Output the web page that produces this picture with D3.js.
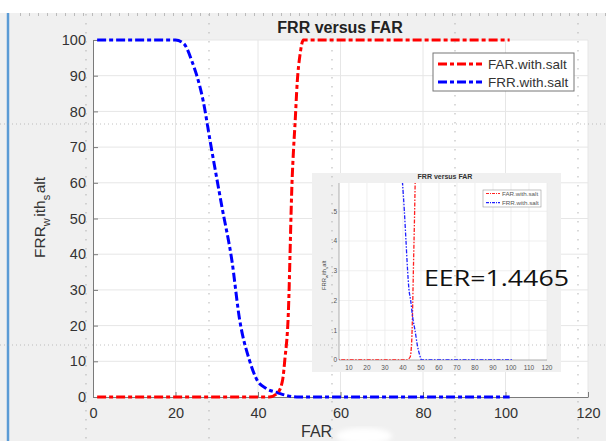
<!DOCTYPE html>
<html>
<head>
<meta charset="utf-8">
<script src="https://cdn.jsdelivr.net/npm/d3@7"></script>
<style>
body { margin: 0; background: #fff; }
text { font-family: "Liberation Sans", Arial, sans-serif; }
</style>
</head>
<body>
<script>
// main chart data
var farX = [1, 42.7, 44.8, 46, 46.5, 47.3, 48.3, 48.6, 49.0, 49.5, 50.2, 51, 101];
var farY = [0, 0, 1.2, 5, 10.4, 22, 61.7, 69, 77, 88, 96, 100, 100];
var frrX = [1, 20, 22, 24, 26.7, 28.5, 31.3, 33.7, 35.5, 37.9, 39.7, 42, 44.8, 47, 49.4, 101];
var frrY = [100, 100, 99, 94, 83, 71, 53, 38, 22, 10.4, 4.9, 2.4, 1.2, 0.4, 0, 0];
var xTicks = [0, 20, 40, 60, 80, 100, 120];
var yTicks = [0, 10, 20, 30, 40, 50, 60, 70, 80, 90, 100];
var seriesNames = ["FAR.with.salt", "FRR.with.salt"];

// inset chart data
var insetFarX = [1, 42.1, 44, 44.9, 45.3, 45.8, 46.5, 46.8];
var insetFarY = [0, 0, 0.01, 0.067, 0.15, 0.3, 0.5, 0.6];
var insetFrrX = [39.7, 40.8, 41.7, 42.6, 43.3, 44.3, 45.5, 46.7, 48, 49.4, 50.3, 101];
var insetFrrY = [0.6, 0.5, 0.4, 0.3, 0.24, 0.2, 0.14, 0.1, 0.05, 0.015, 0, 0];
var insetXTicks = [10, 20, 30, 40, 50, 60, 70, 80, 90, 100, 110, 120];
var insetYTicks = [0, 0.1, 0.2, 0.3, 0.4, 0.5];
var insetYLabels = ["0", ".1", ".2", ".3", ".4", ".5"];
var eerText = "EER=1.4465";

function zip(a, b){
    return a.map(function(v, i){ return [v, b[i]]; });
}

window.onload = function(){
    var svg = d3.select("body")
        .append("svg")
        .attr("width", 606)
        .attr("height", 441);

    var defs = svg.append("defs");
    defs.append("filter").attr("id", "blur")
        .append("feGaussianBlur").attr("stdDeviation", 2.5);
    defs.append("clipPath").attr("id", "insetClip")
        .append("rect").attr("x", 339).attr("y", 183).attr("width", 208).attr("height", 177);

    //figure background
    svg.append("rect")
        .attr("x", 0).attr("y", 13)
        .attr("width", 606).attr("height", 428)
        .style("fill", "#f0f0f0");
    //blue edge on the left
    svg.append("line")
        .attr("x1", 8).attr("x2", 8).attr("y1", 13).attr("y2", 441)
        .style("stroke", "#5b9bd5").style("stroke-width", 2.5);

    var x = d3.scaleLinear().domain([0, 120]).range([93, 588]);
    var y = d3.scaleLinear().domain([0, 100]).range([397, 40]);

    //white plot area
    svg.append("rect")
        .attr("x", x(0)).attr("y", y(100))
        .attr("width", x(120) - x(0)).attr("height", y(0) - y(100))
        .style("fill", "#fff");

    //grid lines
    svg.append("g").selectAll("line")
        .data(xTicks.slice(1))
        .enter().append("line")
        .attr("x1", function(d){ return x(d); })
        .attr("x2", function(d){ return x(d); })
        .attr("y1", y(0)).attr("y2", y(100))
        .style("stroke", "#e6e6e6");
    svg.append("g").selectAll("line")
        .data(yTicks.slice(1))
        .enter().append("line")
        .attr("x1", x(0)).attr("x2", x(120))
        .attr("y1", function(d){ return y(d); })
        .attr("y2", function(d){ return y(d); })
        .style("stroke", "#e6e6e6");

    //axes, ticks point inward like matlab
    var xAxis = svg.append("g")
        .attr("transform", "translate(0," + y(0) + ")")
        .call(d3.axisBottom(x).tickValues(xTicks).tickSize(-5).tickSizeOuter(0).tickPadding(11));
    var yAxis = svg.append("g")
        .attr("transform", "translate(" + x(0) + ",0)")
        .call(d3.axisLeft(y).tickValues(yTicks).tickSize(-5).tickSizeOuter(0).tickPadding(7));
    svg.selectAll(".domain, .tick line").style("stroke", "#7a7a7a");
    svg.selectAll(".tick text")
        .style("font-size", "14.5px")
        .style("fill", "#333");

    //title and labels
    svg.append("text")
        .attr("x", 340).attr("y", 33)
        .attr("text-anchor", "middle")
        .style("font-weight", "bold")
        .style("font-size", "16px")
        .style("fill", "#222")
        .text("FRR versus FAR");

    svg.append("text")
        .attr("x", 301).attr("y", 437)
        .style("font-size", "16px")
        .style("fill", "#333")
        .text("FAR");
    //white smudge after the x label
    svg.append("ellipse")
        .attr("cx", 364).attr("cy", 436)
        .attr("rx", 28).attr("ry", 8)
        .style("fill", "#fff")
        .attr("filter", "url(#blur)");

    var ylab = svg.append("text")
        .attr("transform", "translate(45,258) rotate(-90)")
        .style("font-size", "15.5px")
        .style("fill", "#333");
    ylab.append("tspan").text("FRR");
    ylab.append("tspan").attr("dy", 5).style("font-size", "11px").text("w");
    ylab.append("tspan").attr("dy", -5).attr("dx", 1.5).text("ith");
    ylab.append("tspan").attr("dy", 5).style("font-size", "11px").text("s");
    ylab.append("tspan").attr("dy", -5).attr("dx", 1.5).text("alt");

    //curves
    var line = d3.line()
        .x(function(d){ return x(d[0]); })
        .y(function(d){ return y(d[1]); })
        .curve(d3.curveMonotoneX);

    svg.append("path")
        .attr("d", line(zip(frrX, frrY)))
        .style("fill", "none").style("stroke", "#0000ff")
        .style("stroke-width", 3).style("stroke-dasharray", "9,3,4,3");
    svg.append("path")
        .attr("d", line(zip(farX, farY)))
        .style("fill", "none").style("stroke", "#ff0000")
        .style("stroke-width", 3).style("stroke-dasharray", "9,3,4,3");

    //inset figure
    var inset = svg.append("g").attr("class", "inset");
    inset.append("rect")
        .attr("x", 312).attr("y", 173)
        .attr("width", 249).attr("height", 199)
        .style("fill", "#f0f0f0");

    var ix = d3.scaleLinear().domain([4.5, 120]).range([339, 547]);
    var iy = d3.scaleLinear().domain([0, 0.595]).range([360, 183]);

    inset.append("rect")
        .attr("x", ix(4.5)).attr("y", iy(0.595))
        .attr("width", ix(120) - ix(4.5)).attr("height", iy(0) - iy(0.595))
        .style("fill", "#fff");
    inset.append("g").selectAll("line")
        .data(insetXTicks)
        .enter().append("line")
        .attr("x1", function(d){ return ix(d); })
        .attr("x2", function(d){ return ix(d); })
        .attr("y1", iy(0)).attr("y2", iy(0.595))
        .style("stroke", "#e8e8e8").style("stroke-width", 0.7);
    inset.append("g").selectAll("line")
        .data(insetYTicks.slice(1))
        .enter().append("line")
        .attr("x1", ix(4.5)).attr("x2", ix(120))
        .attr("y1", function(d){ return iy(d); })
        .attr("y2", function(d){ return iy(d); })
        .style("stroke", "#e8e8e8").style("stroke-width", 0.7);
    inset.append("path")
        .attr("d", "M" + ix(4.5) + "," + iy(0.595) + "V" + iy(0) + "H" + ix(120))
        .style("fill", "none").style("stroke", "#999").style("stroke-width", 0.8);

    inset.append("g").selectAll("text")
        .data(insetXTicks)
        .enter().append("text")
        .attr("x", function(d){ return ix(d); })
        .attr("y", 370)
        .attr("text-anchor", "middle")
        .style("font-size", "6.5px").style("fill", "#555")
        .text(function(d){ return d; });
    inset.append("g").selectAll("text")
        .data(insetYTicks)
        .enter().append("text")
        .attr("x", 337)
        .attr("y", function(d){ return iy(d) + 2.3; })
        .attr("text-anchor", "end")
        .style("font-size", "6.5px").style("fill", "#555")
        .text(function(d, i){ return insetYLabels[i]; });

    inset.append("text")
        .attr("x", 445).attr("y", 179)
        .attr("text-anchor", "middle")
        .style("font-weight", "bold").style("font-size", "7px").style("fill", "#333")
        .text("FRR versus FAR");

    var iylab = inset.append("text")
        .attr("transform", "translate(326,290) rotate(-90)")
        .style("font-size", "5.8px").style("fill", "#444");
    iylab.append("tspan").text("FRR");
    iylab.append("tspan").attr("dy", 2).style("font-size", "4.2px").text("w");
    iylab.append("tspan").attr("dy", -2).text("ith");
    iylab.append("tspan").attr("dy", 2).style("font-size", "4.2px").text("s");
    iylab.append("tspan").attr("dy", -2).text("alt");

    var iline = d3.line()
        .x(function(d){ return ix(d[0]); })
        .y(function(d){ return iy(d[1]); })
        .curve(d3.curveMonotoneX);
    var ilines = inset.append("g").attr("clip-path", "url(#insetClip)");
    ilines.append("path")
        .attr("d", iline(zip(insetFarX, insetFarY)))
        .style("fill", "none").style("stroke", "#ff2020")
        .style("stroke-width", 1.3).style("stroke-dasharray", "4,1.5,1.5,1.5");
    ilines.append("path")
        .attr("d", iline(zip(insetFrrX, insetFrrY)))
        .style("fill", "none").style("stroke", "#2020ff")
        .style("stroke-width", 1.3).style("stroke-dasharray", "4,1.5,1.5,1.5");

    //inset legend
    inset.append("rect")
        .attr("x", 483).attr("y", 190)
        .attr("width", 58).attr("height", 17)
        .style("fill", "#fff").style("stroke", "#999").style("stroke-width", 0.6);
    var iColors = ["#ff2020", "#2020ff"];
    seriesNames.forEach(function(name, i){
        var ly = 193.5 + i * 9.2;
        inset.append("line")
            .attr("x1", 486).attr("x2", 500).attr("y1", ly).attr("y2", ly)
            .style("stroke", iColors[i]).style("stroke-width", 1.2)
            .style("stroke-dasharray", "3,1,1,1");
        inset.append("text")
            .attr("x", 502).attr("y", ly + 2)
            .style("font-size", "6.2px").style("fill", "#555")
            .text(name);
    });

    //EER annotation
    inset.append("text")
        .attr("x", 424).attr("y", 286)
        .attr("textLength", 145)
        .attr("lengthAdjust", "spacingAndGlyphs")
        .style("font-family", "'Open Sans', sans-serif")
        .style("font-size", "22.5px")
        .style("fill", "#111")
        .text(eerText);

    //dotted lines from the figure behind
    var dots = svg.append("g").style("stroke", "#999").style("opacity", 0.6);
    dots.selectAll(".vdot")
        .data([86, 209, 332, 455, 578])
        .enter().append("line")
        .attr("x1", function(d){ return d; })
        .attr("x2", function(d){ return d; })
        .attr("y1", 14).attr("y2", 441)
        .style("stroke-width", 1.2)
        .style("stroke-dasharray", "1.5,7.5");
    dots.selectAll(".hdot")
        .data([124, 345])
        .enter().append("line")
        .attr("x1", 0).attr("x2", 606)
        .attr("y1", function(d){ return d; })
        .attr("y2", function(d){ return d; })
        .style("stroke-width", 1)
        .style("stroke-dasharray", "1,3");
    dots.append("line")
        .attr("x1", 20).attr("x2", 606)
        .attr("y1", 14.5).attr("y2", 14.5)
        .style("stroke-width", 3)
        .style("stroke-dasharray", "1,8");

    //main legend
    var legend = svg.append("g");
    legend.append("rect")
        .attr("x", 433).attr("y", 53)
        .attr("width", 141).attr("height", 38)
        .style("fill", "#fff").style("stroke", "#777").style("stroke-width", 1);
    var colors = ["#ff0000", "#0000ff"];
    seriesNames.forEach(function(name, i){
        var ly = 64 + i * 18;
        legend.append("line")
            .attr("x1", 438).attr("x2", 482).attr("y1", ly).attr("y2", ly)
            .style("stroke", colors[i]).style("stroke-width", 3)
            .style("stroke-dasharray", "9,3,4,3");
        legend.append("text")
            .attr("x", 488).attr("y", ly + 5)
            .style("font-size", "13.5px").style("fill", "#333")
            .text(name);
    });
};
</script>
</body>
</html>
